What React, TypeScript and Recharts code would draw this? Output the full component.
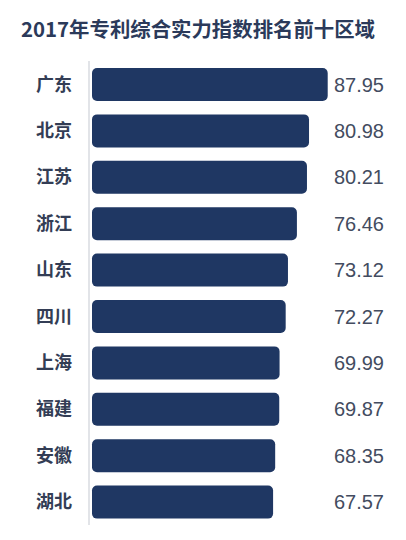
import React from 'react';
import { BarChart, Bar, XAxis, YAxis, LabelList } from 'recharts';

const regions = ['广东', '北京', '江苏', '浙江', '山东', '四川', '上海', '福建', '安徽', '湖北'];
const scores = [87.95, 80.98, 80.21, 76.46, 73.12, 72.27, 69.99, 69.87, 68.35, 67.57];

const data = regions.map((name, i) => ({ name, score: scores[i] }));

const ValueLabel = (props: any) => {
  const { y, height, value } = props;
  return (
    <text
      x={384}
      y={y + height / 2}
      textAnchor="end"
      dominantBaseline="central"
      fontFamily="'Liberation Sans', Arial, sans-serif"
      fontSize={20}
      fill="#434c60"
    >
      {Number(value).toFixed(2)}
    </text>
  );
};

export default function App() {
  return (
    <div style={{ position: 'absolute', left: 0, top: 0, width: 406, height: 540, background: '#fff' }}>
      <div
        style={{
          position: 'absolute',
          left: 21,
          top: 15,
          fontFamily: "'Noto Sans CJK SC', sans-serif",
          fontWeight: 700,
          fontSize: 20.4,
          lineHeight: '26px',
          color: '#2b3a5a',
          whiteSpace: 'nowrap',
        }}
      >
        2017年专利综合实力指数排名前十区域
      </div>
      <BarChart
        width={406}
        height={540}
        data={data}
        layout="vertical"
        margin={{ top: 61, right: 46, bottom: 15, left: 0 }}
        barCategoryGap={13}
      >
        <XAxis type="number" domain={[0, 100]} hide padding={{ left: 3, right: 0 }} />
        <YAxis
          type="category"
          dataKey="name"
          width={89}
          axisLine={{ stroke: '#d9dbe0', strokeWidth: 1.5 }}
          tickLine={false}
          tickSize={0}
          tickMargin={17}
          tick={{
            fontFamily: "'Noto Sans CJK SC', sans-serif",
            fontWeight: 700,
            fontSize: 18,
            fill: '#333d55',
          }}
        />
        <Bar dataKey="score" fill="#1f3763" barSize={33} radius={5} isAnimationActive={false}>
          <LabelList dataKey="score" content={ValueLabel} />
        </Bar>
      </BarChart>
    </div>
  );
}
